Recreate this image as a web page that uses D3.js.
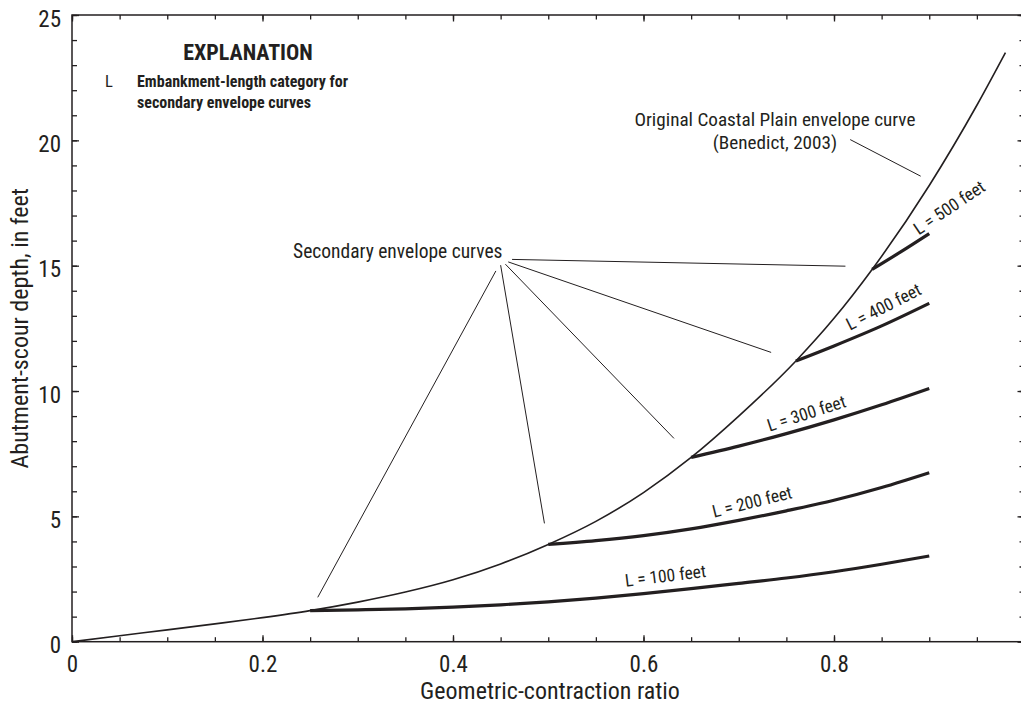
<!DOCTYPE html>
<html>
<head>
<meta charset="utf-8">
<script src="https://cdn.jsdelivr.net/npm/d3@7"></script>
<style>
  html, body { margin: 0; padding: 0; background: #fff; }
  svg { display: block; }
  text { font-family: "Liberation Sans Narrow", "Arial Narrow", "Roboto Condensed", "DejaVu Sans Condensed", sans-serif; fill: #231f20; }
</style>
</head>
<body>
<svg id="chart" width="1021" height="704"></svg>
<script>
// ---------------- data ----------------
const envelopeX = [0, 0.05, 0.1, 0.15, 0.2, 0.25, 0.3, 0.35, 0.4, 0.45, 0.5, 0.55, 0.6, 0.65, 0.7, 0.76, 0.8, 0.84, 0.9, 0.95, 0.98];
const envelopeY = [0, 0.24, 0.47, 0.71, 0.96, 1.24, 1.58, 1.98, 2.47, 3.1, 3.88, 4.8, 5.95, 7.35, 9.0, 11.2, 12.9, 14.85, 18.2, 21.4, 23.5];

const l100X = [0.25, 0.3, 0.35, 0.4, 0.45, 0.5, 0.55, 0.6, 0.65, 0.7, 0.75, 0.8, 0.85, 0.9];
const l100Y = [1.24, 1.27, 1.31, 1.38, 1.47, 1.59, 1.74, 1.92, 2.12, 2.33, 2.54, 2.79, 3.09, 3.42];
const l200X = [0.5, 0.55, 0.6, 0.65, 0.7, 0.75, 0.8, 0.85, 0.9];
const l200Y = [3.88, 4.03, 4.23, 4.5, 4.84, 5.22, 5.64, 6.15, 6.74];
const l300X = [0.65, 0.7, 0.75, 0.8, 0.85, 0.9];
const l300Y = [7.35, 7.8, 8.3, 8.85, 9.45, 10.1];
const l400X = [0.76, 0.8, 0.85, 0.9];
const l400Y = [11.2, 11.8, 12.6, 13.5];
const l500X = [0.84, 0.87, 0.9];
const l500Y = [14.85, 15.55, 16.28];

const secondaryLabels = ["L = 100 feet", "L = 200 feet", "L = 300 feet", "L = 400 feet", "L = 500 feet"];
const secondaryLabelX = [0.623, 0.714, 0.771, 0.852, 0.921];
const secondaryLabelY = [2.63, 5.58, 9.11, 13.36, 17.32];
const secondaryLabelAngle = [-7, -14, -18, -27, -34];

// leader lines for "Secondary envelope curves"
const leaderStartX = [0.445, 0.450, 0.455, 0.458, 0.462];
const leaderStartY = [14.79, 15.02, 15.06, 15.15, 15.25];
const leaderEndX = [0.258, 0.496, 0.632, 0.734, 0.812];
const leaderEndY = [1.77, 4.72, 8.11, 11.54, 14.98];

// leader for original envelope label
const origLeaderX = [0.817, 0.891];
const origLeaderY = [20.03, 18.57];

const xMajorTicks = [0, 0.2, 0.4, 0.6, 0.8, 1];
const xTickLabels = ["0", "0.2", "0.4", "0.6", "0.8", ""];
const yMajorTicks = [0, 5, 10, 15, 20, 25];
const yTickLabels = ["0", "5", "10", "15", "20", "25"];
const xMinorTicks = d3.range(0, 1.0001, 0.05);
const yMinorTicks = d3.range(0, 25.0001, 1);

// ---------------- layout ----------------
const svg = d3.select("#chart");
const mLeft = 72, mRight = 1024.5, mTop = 15, mBottom = 641.7;
const x = d3.scaleLinear().domain([0, 1]).range([mLeft, mRight]);
const y = d3.scaleLinear().domain([0, 25]).range([mBottom, mTop]);
const ink = "#231f20";

// frame
svg.append("rect").attr("x", mLeft).attr("y", mTop)
  .attr("width", mRight - mLeft).attr("height", mBottom - mTop)
  .attr("fill", "none").attr("stroke", ink).attr("stroke-width", 1.5);

function styleAxis(g) {
  g.select(".domain").remove();
  g.selectAll(".tick line").attr("stroke", ink).attr("stroke-width", 1.3);
}

// bottom
svg.append("g").attr("transform", `translate(0,${mBottom})`)
  .call(d3.axisBottom(x).tickValues(xMinorTicks).tickSize(-4.5).tickFormat(""))
  .call(styleAxis);
const xb = svg.append("g").attr("transform", `translate(0,${mBottom})`)
  .call(d3.axisBottom(x).tickValues(xMajorTicks).tickSize(-6.5)
    .tickFormat((d, i) => xTickLabels[i]))
  .call(styleAxis);
xb.selectAll("text").attr("font-size", 23).attr("fill", ink)
  .attr("font-family", null).attr("dy", 0).attr("y", 30);

// top
svg.append("g").attr("transform", `translate(0,${mTop})`)
  .call(d3.axisTop(x).tickValues(xMinorTicks).tickSize(-4.5).tickFormat(""))
  .call(styleAxis);
svg.append("g").attr("transform", `translate(0,${mTop})`)
  .call(d3.axisTop(x).tickValues(xMajorTicks).tickSize(-6.5).tickFormat(""))
  .call(styleAxis);

// left
svg.append("g").attr("transform", `translate(${mLeft},0)`)
  .call(d3.axisLeft(y).tickValues(yMinorTicks).tickSize(-5).tickFormat(""))
  .call(styleAxis);
const yl = svg.append("g").attr("transform", `translate(${mLeft},0)`)
  .call(d3.axisLeft(y).tickValues(yMajorTicks).tickSize(-7)
    .tickFormat((d, i) => yTickLabels[i]))
  .call(styleAxis);
yl.selectAll("text").attr("font-size", 23).attr("fill", ink)
  .attr("font-family", null).attr("x", -11).attr("dy", "0.48em");

// right
svg.append("g").attr("transform", `translate(${mRight},0)`)
  .call(d3.axisRight(y).tickValues(yMinorTicks).tickSize(-5).tickFormat(""))
  .call(styleAxis);
svg.append("g").attr("transform", `translate(${mRight},0)`)
  .call(d3.axisRight(y).tickValues(yMajorTicks).tickSize(-7).tickFormat(""))
  .call(styleAxis);

// axis titles
svg.append("text").attr("x", 550).attr("y", 699).attr("text-anchor", "middle")
  .attr("font-size", 24).text("Geometric-contraction ratio");
svg.append("text").attr("transform", `translate(28,${(mTop + mBottom) / 2}) rotate(-90)`)
  .attr("text-anchor", "middle").attr("font-size", 24).text("Abutment-scour depth, in feet");

// ---------------- curves ----------------
const line = d3.line().x(d => x(d[0])).y(d => y(d[1])).curve(d3.curveMonotoneX);

svg.append("path").datum(d3.zip(envelopeX, envelopeY))
  .attr("d", line).attr("fill", "none").attr("stroke", ink).attr("stroke-width", 1.6);

const secondaries = [[l100X, l100Y], [l200X, l200Y], [l300X, l300Y], [l400X, l400Y], [l500X, l500Y]];
secondaries.forEach(([xs, ys]) => {
  svg.append("path").datum(d3.zip(xs, ys))
    .attr("d", line).attr("fill", "none").attr("stroke", ink).attr("stroke-width", 3.2)
    .attr("stroke-linecap", "butt");
});

secondaryLabels.forEach((t, i) => {
  svg.append("text")
    .attr("transform", `translate(${x(secondaryLabelX[i])},${y(secondaryLabelY[i])}) rotate(${secondaryLabelAngle[i]})`)
    .attr("text-anchor", "middle").attr("dy", "0.35em").attr("font-size", 17.5).text(t);
});

// ---------------- annotations ----------------
leaderStartX.forEach((sx, i) => {
  svg.append("line")
    .attr("x1", x(sx)).attr("y1", y(leaderStartY[i]))
    .attr("x2", x(leaderEndX[i])).attr("y2", y(leaderEndY[i]))
    .attr("stroke", ink).attr("stroke-width", 1);
});
svg.append("text").attr("x", x(0.342)).attr("y", y(15.29)).attr("text-anchor", "middle")
  .attr("font-size", 19.5).text("Secondary envelope curves");

svg.append("line")
  .attr("x1", x(origLeaderX[0])).attr("y1", y(origLeaderY[0]))
  .attr("x2", x(origLeaderX[1])).attr("y2", y(origLeaderY[1]))
  .attr("stroke", ink).attr("stroke-width", 1);
svg.append("text").attr("x", x(0.738)).attr("y", y(20.56)).attr("text-anchor", "middle")
  .attr("font-size", 19.2).text("Original Coastal Plain envelope curve");
svg.append("text").attr("x", x(0.738)).attr("y", y(19.64)).attr("text-anchor", "middle")
  .attr("font-size", 19.2).text("(Benedict, 2003)");

// ---------------- explanation ----------------
svg.append("text").attr("x", 248).attr("y", 60).attr("text-anchor", "middle")
  .attr("font-size", 22).attr("font-weight", "bold").text("EXPLANATION");
svg.append("text").attr("x", 105).attr("y", 86.7)
  .attr("font-size", 16.5).text("L");
svg.append("text").attr("x", 137).attr("y", 86.7)
  .attr("font-size", 16).attr("font-weight", "bold").text("Embankment-length category for");
svg.append("text").attr("x", 137).attr("y", 108.3)
  .attr("font-size", 16).attr("font-weight", "bold").text("secondary envelope curves");
</script>
</body>
</html>
